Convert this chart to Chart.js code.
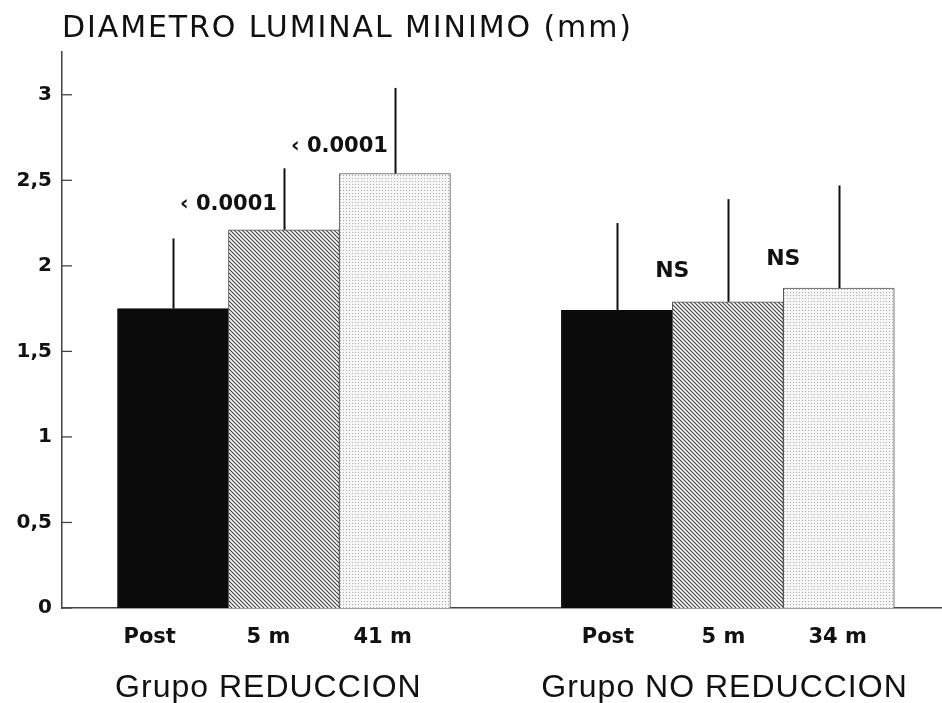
<!DOCTYPE html>
<html><head><meta charset="utf-8">
<script src="https://cdn.jsdelivr.net/npm/chart.js@4/dist/chart.umd.min.js"></script>
<style>html,body{margin:0;padding:0;background:#fff}canvas{display:block}</style>
</head><body>
<canvas id="c" width="942" height="703"></canvas>
<script>
// ---- data ----
const titleText = 'DIAMETRO LUMINAL MINIMO (mm)';
const categories = ['Post', '5 m', '41 m', 'Post', '5 m', '34 m'];
const barX = [1, 2, 3, 5, 6, 7];
const labelX = [0.79, 1.86, 2.89, 4.92, 5.96, 6.99];
const means = [1.75, 2.21, 2.54, 1.74, 1.79, 1.87];
const sdUp = [0.41, 0.36, 0.50, 0.51, 0.60, 0.60];
const groupLabels = ['Grupo REDUCCION', 'Grupo NO REDUCCION'];
const groupX = [1.86, 5.97];
const annotText = ['\u2039 0.0001', '\u2039 0.0001', 'NS', 'NS'];
const annotX = [1.5, 2.5, 5.5, 6.5];
const annotY = [2.36, 2.70, 1.97, 2.04];
const yTicks = [0, 0.5, 1, 1.5, 2, 2.5, 3];

// ---- fills ----
function hatchPattern() {
  const c = document.createElement('canvas'); c.width = c.height = 4;
  const g = c.getContext('2d');
  g.fillStyle = '#fff'; g.fillRect(0, 0, 4, 4);
  g.strokeStyle = '#444'; g.lineWidth = 1.2;
  g.beginPath();
  g.moveTo(-1, -1); g.lineTo(5, 5);
  g.moveTo(-1, 3); g.lineTo(1, 5);
  g.moveTo(3, -1); g.lineTo(5, 1);
  g.stroke();
  return g.createPattern(c, 'repeat');
}
function dotPattern() {
  const c = document.createElement('canvas'); c.width = c.height = 3;
  const g = c.getContext('2d');
  g.fillStyle = '#f6f6f6'; g.fillRect(0, 0, 3, 3);
  g.fillStyle = '#ababab'; g.fillRect(1, 1, 1, 1);
  return g.createPattern(c, 'repeat');
}
const fills = ['#0b0b0b', hatchPattern(), dotPattern(), '#0b0b0b', hatchPattern(), dotPattern()];
const borders = ['#0b0b0b', '#555', '#555', '#0b0b0b', '#555', '#555'];

const extras = {
  id: 'extras',
  afterDatasetsDraw(chart) {
    const ctx = chart.ctx, xs = chart.scales.x, ys = chart.scales.y;
    ctx.save();
    // error bars (upper only)
    ctx.strokeStyle = '#111'; ctx.lineWidth = 2;
    barX.forEach((bx, i) => {
      const x = Math.round(xs.getPixelForValue(bx)) + 0.5;
      ctx.beginPath();
      ctx.moveTo(x, ys.getPixelForValue(means[i]));
      ctx.lineTo(x, ys.getPixelForValue(means[i] + sdUp[i]));
      ctx.stroke();
    });
    // inside tick marks on y axis
    ctx.strokeStyle = '#444'; ctx.lineWidth = 1.3;
    yTicks.forEach(v => {
      const y = ys.getPixelForValue(v);
      ctx.beginPath(); ctx.moveTo(xs.left, y); ctx.lineTo(xs.left + 10, y); ctx.stroke();
    });
    // annotations
    ctx.fillStyle = '#111';
    ctx.textAlign = 'center'; ctx.textBaseline = 'middle';
    annotText.forEach((t, i) => {
      ctx.font = (t === 'NS' ? 'bold 22px' : 'bold 21px') + ' "DejaVu Sans"';
      ctx.fillText(t, xs.getPixelForValue(annotX[i]), ys.getPixelForValue(annotY[i]));
    });
    // group labels
    ctx.font = '32px "Liberation Sans", Arial, sans-serif';
    ctx.textBaseline = 'alphabetic';
    try { ctx.letterSpacing = '1px'; } catch (e) {}
    groupLabels.forEach((t, i) => {
      ctx.fillText(t, xs.getPixelForValue(groupX[i]), 697);
    });
    // title
    ctx.textAlign = 'left';
    ctx.font = '30px "DejaVu Sans", sans-serif';
    try { ctx.letterSpacing = '1.9px'; } catch (e) {}
    ctx.fillText(titleText, 62, 37);
    try { ctx.letterSpacing = '0px'; } catch (e) {}
    ctx.restore();
  }
};

new Chart(document.getElementById('c'), {
  type: 'bar',
  data: {
    datasets: [{
      data: barX.map((x, i) => ({ x: x, y: means[i] })),
      backgroundColor: fills,
      borderColor: borders,
      borderWidth: 1,
      barPercentage: 1,
      categoryPercentage: 1
    }]
  },
  options: {
    responsive: false,
    animation: false,
    devicePixelRatio: 1,
    layout: { padding: { top: 52, left: 0, right: 0, bottom: 0 } },
    plugins: { legend: { display: false }, tooltip: { enabled: false }, title: { display: false } },
    scales: {
      x: {
        type: 'linear', min: 0, max: 7.93, offset: false,
        afterBuildTicks: s => { s.ticks = labelX.map(v => ({ value: v })); },
        afterFit: s => { s.height = 95; },
        grid: { display: false, drawTicks: false },
        border: { display: true, color: '#444', width: 1.5 },
        ticks: {
          autoSkip: false, maxRotation: 0, padding: 17,
          color: '#111', font: { family: 'DejaVu Sans', weight: 'bold', size: 21 },
          callback: (v, i) => categories[i]
        }
      },
      y: {
        min: 0, max: 3.25,
        afterBuildTicks: s => { s.ticks = yTicks.map(v => ({ value: v })); },
        afterFit: s => { s.width = 62; },
        grid: { display: false, drawTicks: false },
        border: { display: true, color: '#444', width: 1.5 },
        ticks: {
          padding: 10, color: '#111',
          font: { family: 'DejaVu Sans', weight: 'bold', size: 20 },
          callback: v => String(v).replace('.', ',')
        }
      }
    }
  },
  plugins: [extras]
});
</script>
</body></html>
